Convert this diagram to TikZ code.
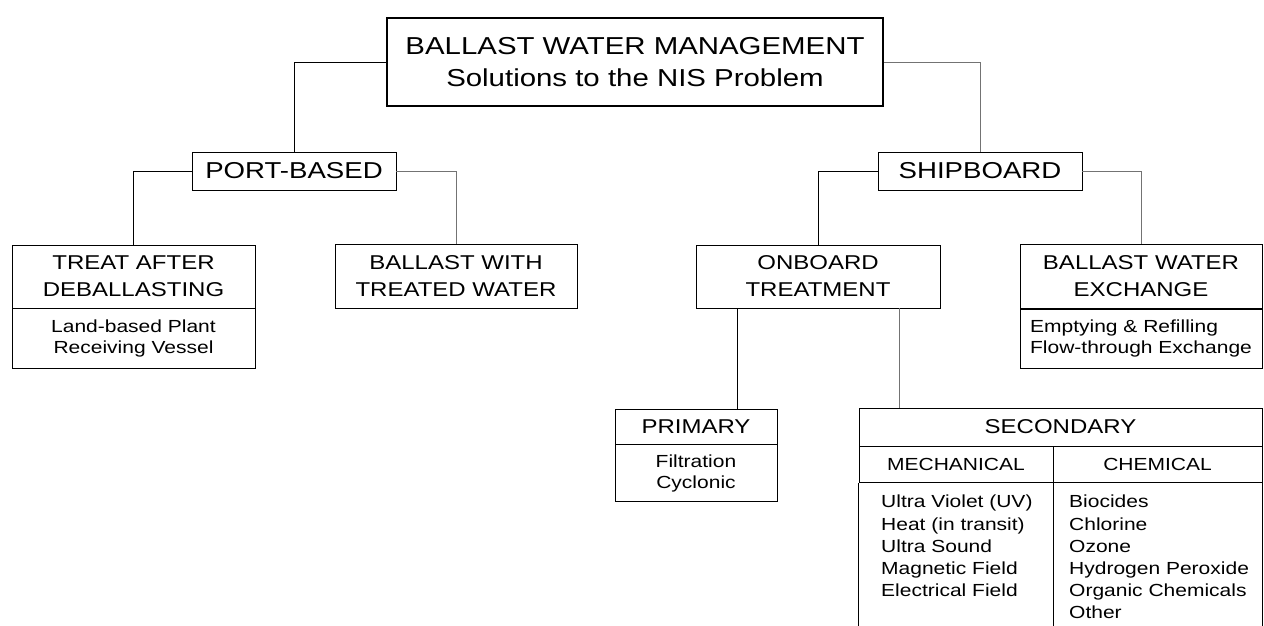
\documentclass[tikz,border=0pt]{standalone}
\usepackage{fontspec}
\setmainfont{Liberation Sans}[FakeStretch=1.2]
\tikzset{
  box/.style={draw, line width=0.8pt, inner sep=0pt, align=center},
  topfont/.style={font=\fontsize{23}{26}\selectfont},
  headfont/.style={font=\fontsize{20}{27}\selectfont},
  listfont/.style={font=\fontsize{17.5}{21}\selectfont},
  itemfont/.style={font=\fontsize{17.5}{22.2}\selectfont},
  link/.style={line width=0.8pt},
  faintlink/.style={line width=0.6pt, black!55},
}
\begin{document}
\begin{tikzpicture}[x=1pt,y=-1pt]
        \useasboundingbox (0,0) rectangle (1264,626);
        %% Boxes
        \node[box, line width=2pt, minimum width=496, minimum height=88, font=\fontsize{24.5}{32}\selectfont] (bwm) at (635,62) {BALLAST WATER MANAGEMENT\\Solutions to the NIS Problem};
        \node[box, topfont, minimum width=204, minimum height=38] (port) at (294,171) {PORT-BASED};
        \node[box, topfont, minimum width=204, minimum height=38] (ship) at (980,171) {SHIPBOARD};
        \node[box, headfont, minimum width=243, minimum height=63] (treat) at (133.5,276.5) {TREAT AFTER\\DEBALLASTING};
        \node[box, listfont, minimum width=243, minimum height=60, anchor=north] (treatsub) at (treat.south) {Land-based Plant\\Receiving Vessel};
        \node[box, headfont, minimum width=242, minimum height=64] (with) at (456,276) {BALLAST WITH\\TREATED WATER};
        \node[box, headfont, minimum width=244, minimum height=63] (onboard) at (818,276.5) {ONBOARD\\TREATMENT};
        \node[box, headfont, minimum width=242, minimum height=64] (bwe) at (1141,276.5) {BALLAST WATER\\EXCHANGE};
        \node[box, listfont, align=left, minimum width=242, minimum height=59, anchor=north] (bwesub) at (bwe.south) {Emptying \& Refilling\\Flow-through Exchange};
        \node[box, headfont, minimum width=162, minimum height=35] (prim) at (696,426.5) {PRIMARY};
        \node[box, listfont, minimum width=162, minimum height=57, anchor=north] (primsub) at (prim.south) {Filtration\\Cyclonic};
        \node[box, headfont, minimum width=403, minimum height=38] (sec) at (1060.5,427) {SECONDARY};
        \node[box, listfont, minimum width=194, minimum height=36, anchor=north west] (mech) at (sec.south west) {MECHANICAL};
        \node[box, listfont, minimum width=209, minimum height=36, anchor=north east] (chem) at (sec.south east) {CHEMICAL};
        \node[itemfont, align=left, anchor=north west, inner sep=0pt] (mechlist) at (881,495) {Ultra Violet (UV)\\Heat (in transit)\\Ultra Sound\\Magnetic Field\\Electrical Field};
        \node[itemfont, align=left, anchor=north west, inner sep=0pt] (chemlist) at (1069,495) {Biocides\\Chlorine\\Ozone\\Hydrogen Peroxide\\Organic Chemicals\\Other};
        %% Open bottom of the secondary table
        \coordinate (bottom) at (0,626);
        \draw[link] (mech.south west) -- (mech.south west |- bottom);
        \draw[link] (mech.south east) -- (mech.south east |- bottom);
        \draw[link] (chem.south east) -- (chem.south east |- bottom);
        %% Connectors
        \draw[link] (bwm.west) -| (port.north);
        \draw[faintlink] (bwm.east) -| (ship.north);
        \draw[link] (port.west) -| (treat.north);
        \draw[faintlink] (port.east) -| (with.north);
        \draw[link] (ship.west) -| (onboard.north);
        \draw[faintlink] (ship.east) -| (bwe.north);
        \draw[link] ([xshift=42pt]onboard.south west) -- ([xshift=42pt]onboard.south west |- prim.north);
        \draw[faintlink] ([xshift=-41pt]onboard.south east) -- ([xshift=-41pt]onboard.south east |- sec.north);
    \end{tikzpicture}
\end{document}
